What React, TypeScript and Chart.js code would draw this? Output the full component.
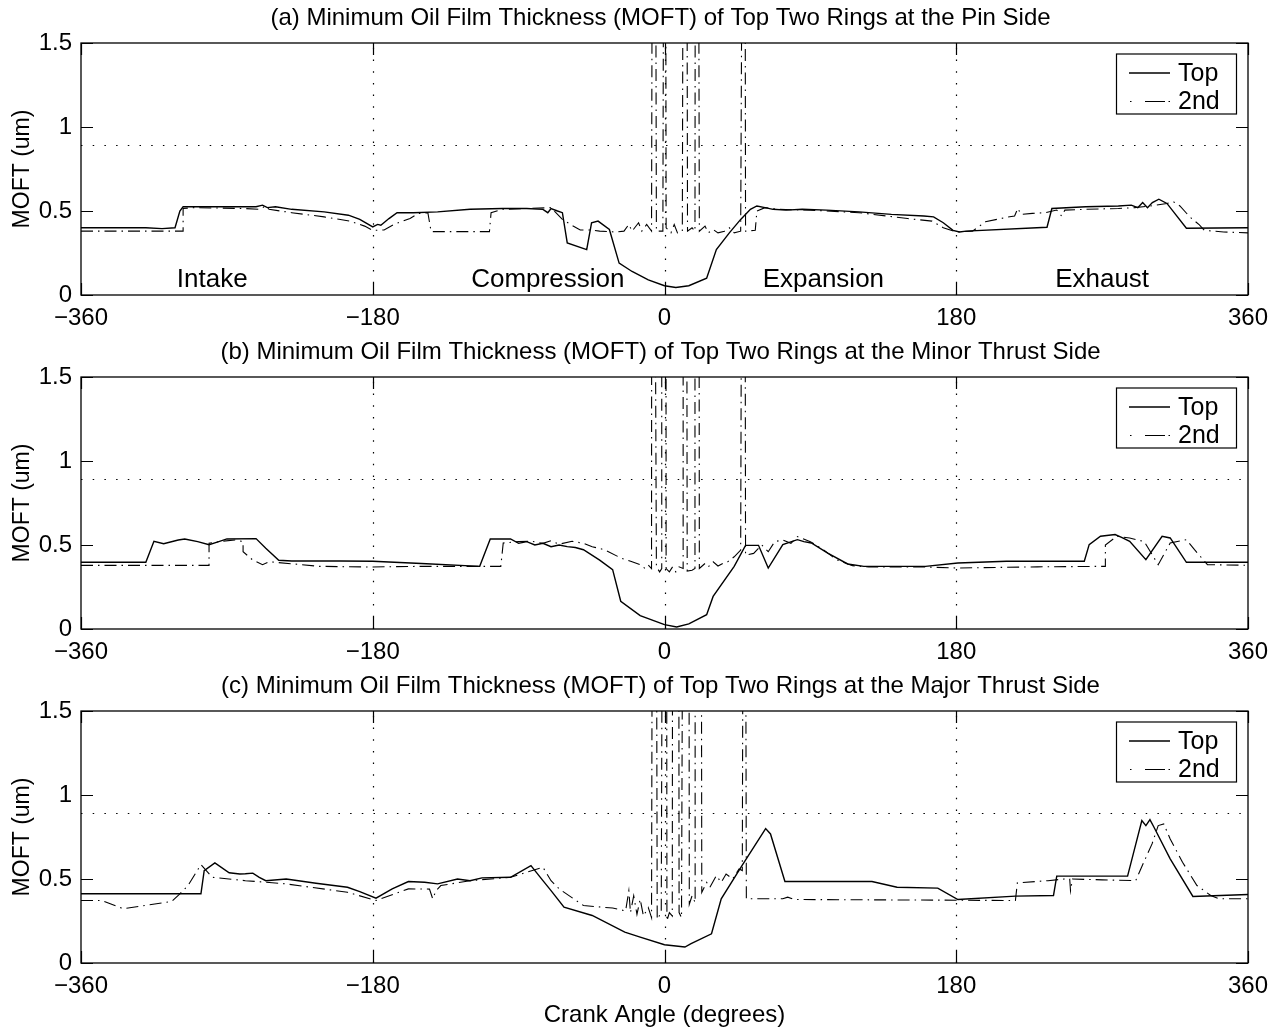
import React, { useEffect, useRef } from "react";
import { Chart, registerables, Plugin } from "chart.js";

Chart.register(...registerables);

type Pt = [number, number];

// Axis ticks and reference values
const X_TICKS = [-360, -180, 0, 180, 360];
const Y_TICKS = [0, 0.5, 1, 1.5];
const GRID_ANGLES = [-180, 0, 180];
const CRITICAL_MOFT = 0.89;

// Stroke names written along the bottom of the first panel
const STROKE_LABELS = ["Intake", "Compression", "Expansion", "Exhaust"];
const STROKE_LABEL_ANGLES = [-279, -72, 98, 270];
const STROKE_LABEL_LEVEL = 0.095;

const SERIES_NAMES = ["Top", "2nd"];

const PANEL_TITLES = [
  "(a) Minimum Oil Film Thickness (MOFT) of Top Two Rings at the Pin Side",
  "(b) Minimum Oil Film Thickness (MOFT) of Top Two Rings at the Minor Thrust Side",
  "(c) Minimum Oil Film Thickness (MOFT) of Top Two Rings at the Major Thrust Side",
];

// (a) pin side — [crank angle deg, MOFT um]
const PIN_TOP: Pt[] = [
  [-360, 0.4], [-320, 0.4], [-310, 0.395], [-302, 0.4], [-299, 0.5], [-297, 0.525],
  [-280, 0.525], [-260, 0.525], [-252, 0.525], [-248, 0.535], [-245, 0.52], [-240, 0.525],
  [-230, 0.51], [-210, 0.495], [-195, 0.475], [-188, 0.45], [-180, 0.405], [-177, 0.42],
  [-175, 0.415], [-170, 0.455], [-165, 0.49], [-155, 0.49], [-140, 0.495], [-120, 0.51],
  [-100, 0.515], [-85, 0.515], [-75, 0.51], [-72, 0.49], [-70, 0.515], [-66, 0.5],
  [-63, 0.49], [-60, 0.31], [-48, 0.27], [-45, 0.43], [-41, 0.44], [-34, 0.39],
  [-28, 0.19], [-20, 0.14], [-10, 0.09], [0, 0.055], [7, 0.045], [15, 0.055],
  [26, 0.1], [32, 0.27], [40, 0.37], [47, 0.45], [53, 0.51], [57, 0.53], [62, 0.52],
  [67, 0.51], [75, 0.505], [85, 0.51], [100, 0.505], [120, 0.495], [140, 0.48],
  [160, 0.47], [166, 0.465], [172, 0.43], [178, 0.385], [182, 0.375], [186, 0.38],
  [236, 0.403], [239, 0.515], [260, 0.525], [280, 0.53], [288, 0.535], [292, 0.52],
  [295, 0.55], [298, 0.52], [301, 0.55], [305, 0.57], [310, 0.545], [322, 0.397], [360, 0.4],
];

const PIN_SECOND: Pt[] = [
  [-360, 0.38], [-340, 0.38], [-297, 0.38], [-297, 0.515], [-290, 0.52], [-260, 0.515],
  [-250, 0.51], [-246, 0.53], [-244, 0.51], [-230, 0.49], [-210, 0.465], [-194, 0.44],
  [-185, 0.41], [-180, 0.385], [-173, 0.387], [-167, 0.42], [-157, 0.456], [-152, 0.485],
  [-146, 0.49], [-144, 0.377], [-120, 0.377], [-108, 0.377], [-107, 0.49], [-100, 0.51],
  [-85, 0.515], [-70, 0.52], [-63, 0.45], [-58, 0.42], [-52, 0.387], [-45, 0.387],
  [-40, 0.38], [-30, 0.375], [-25, 0.38], [-22, 0.42], [-20, 0.38], [-16, 0.43],
  [-14, 0.38], [-11, 0.42], [-8, 0.38], [-7.5, 2.5], [-5.5, 2.5], [-5, 0.38], [-1, 0.38],
  [-0.5, 2.5], [0.7, 2.5], [1, 0.4], [4, 0.37], [6, 0.42], [8, 0.37], [11, 0.38],
  [11.5, 2.5], [13.8, 2.5], [14.2, 0.38], [17, 0.4], [18.8, 0.38], [19, 2.5], [21, 2.5],
  [21.5, 0.38], [25, 0.41], [27, 0.37], [30, 0.39], [33, 0.37], [37, 0.38], [40, 0.4],
  [43, 0.37], [47, 0.38], [48, 2.5], [49.7, 2.5], [50, 0.38], [56, 0.385], [57, 0.5],
  [62, 0.52], [70, 0.51], [90, 0.505], [120, 0.49], [150, 0.455], [165, 0.44], [172, 0.4],
  [180, 0.375], [190, 0.38], [198, 0.436], [213, 0.466], [216, 0.47], [218, 0.516],
  [220, 0.48], [227, 0.486], [235, 0.49], [242, 0.506], [245, 0.47], [247, 0.505],
  [260, 0.51], [280, 0.515], [290, 0.52], [300, 0.53], [310, 0.545], [314, 0.555],
  [318, 0.53], [324, 0.466], [330, 0.417], [333, 0.385], [345, 0.375], [360, 0.37],
];

// (b) minor thrust side
const MINOR_TOP: Pt[] = [
  [-360, 0.397], [-320, 0.397], [-315, 0.522], [-309, 0.508], [-300, 0.53], [-296, 0.536],
  [-288, 0.52], [-281, 0.502], [-275, 0.52], [-270, 0.536], [-252, 0.538], [-246, 0.48],
  [-238, 0.409], [-230, 0.405], [-200, 0.405], [-180, 0.403], [-150, 0.39], [-114, 0.373],
  [-107.5, 0.536], [-95, 0.536], [-90, 0.51], [-85, 0.52], [-80, 0.5], [-75, 0.51],
  [-70, 0.49], [-65, 0.5], [-60, 0.49], [-55, 0.485], [-50, 0.472], [-40, 0.41],
  [-32, 0.353], [-27, 0.165], [-15, 0.08], [0, 0.026], [7.5, 0.012], [15, 0.03],
  [26, 0.085], [30, 0.194], [43, 0.373], [50, 0.498], [58, 0.498], [64, 0.363],
  [73, 0.502], [82, 0.532], [86, 0.52], [90.6, 0.512], [100.7, 0.452], [113, 0.387],
  [123, 0.373], [161, 0.373], [181, 0.393], [211, 0.403], [259, 0.403], [262, 0.502],
  [269, 0.552], [278, 0.562], [282, 0.545], [287, 0.522], [297, 0.413], [307, 0.552],
  [312, 0.542], [322, 0.397], [360, 0.397],
];

const MINOR_SECOND: Pt[] = [
  [-360, 0.379], [-300, 0.379], [-281, 0.379], [-281, 0.51], [-275, 0.52], [-265, 0.53],
  [-260, 0.52], [-260, 0.46], [-254, 0.41], [-248, 0.383], [-244, 0.4], [-240, 0.397],
  [-213, 0.373], [-183, 0.369], [-150, 0.373], [-101, 0.373], [-99.5, 0.512], [-90, 0.52],
  [-82, 0.522], [-75, 0.51], [-70, 0.525], [-65, 0.505], [-57, 0.522], [-50, 0.51],
  [-44.6, 0.49], [-37, 0.472], [-27, 0.423], [-20, 0.4], [-15, 0.383], [-12, 0.36],
  [-10, 0.38], [-8, 0.36], [-7.9, 2.5], [-5.9, 2.5], [-5, 0.37], [-3, 0.34], [-1.7, 0.36],
  [-1.7, 2.5], [0.9, 2.5], [1, 0.36], [3, 0.34], [5, 0.37], [7, 0.34], [9, 0.37],
  [11.5, 0.36], [11.5, 2.5], [13.7, 2.5], [14, 0.345], [17, 0.35], [18.8, 0.36],
  [18.8, 2.5], [21.3, 2.5], [21.5, 0.36], [25, 0.39], [27, 0.37], [30, 0.4], [33, 0.375],
  [36, 0.39], [39, 0.4], [43, 0.43], [47, 0.47], [47.6, 2.5], [49.7, 2.5], [50, 0.44],
  [55, 0.45], [60, 0.5], [64, 0.46], [68, 0.52], [73, 0.53], [78, 0.51], [82, 0.55],
  [90, 0.52], [98, 0.472], [106, 0.413], [116, 0.377], [126, 0.369], [161, 0.369],
  [181, 0.363], [230, 0.37], [272, 0.373], [272, 0.5], [279, 0.552], [287, 0.542],
  [296, 0.52], [304.6, 0.383], [312, 0.512], [322, 0.532], [327, 0.472], [335, 0.383],
  [360, 0.379],
];

// (c) major thrust side
const MAJOR_TOP: Pt[] = [
  [-360, 0.412], [-286, 0.412], [-284, 0.55], [-277.4, 0.596], [-268.6, 0.537],
  [-262, 0.53], [-258.6, 0.531], [-254, 0.535], [-250, 0.51], [-246, 0.49],
  [-233.4, 0.5], [-215, 0.475], [-195.6, 0.451], [-188, 0.425], [-178, 0.386],
  [-168, 0.441], [-158, 0.485], [-148, 0.481], [-140, 0.471], [-127.7, 0.5], [-120, 0.49],
  [-112.6, 0.507], [-95, 0.51], [-82.4, 0.58], [-75, 0.49], [-70, 0.431], [-62, 0.332],
  [-44.6, 0.283], [-24.5, 0.184], [-15, 0.154], [0, 0.109], [12.6, 0.095], [16.4, 0.115],
  [29, 0.174], [35, 0.382], [47.8, 0.58], [62.4, 0.8], [65.4, 0.768], [74.3, 0.485],
  [85.6, 0.485], [128, 0.485], [143.5, 0.451], [168.6, 0.446], [181, 0.378],
  [216.5, 0.398], [240, 0.402], [242, 0.517], [285.7, 0.517], [289.5, 0.66],
  [294.5, 0.848], [297, 0.818], [299.5, 0.853], [302, 0.808], [312, 0.62], [326, 0.396],
  [360, 0.408],
];

const MAJOR_SECOND: Pt[] = [
  [-360, 0.372], [-347, 0.372], [-334, 0.323], [-304, 0.366], [-299, 0.412], [-294, 0.461],
  [-286, 0.586], [-279, 0.51], [-258.6, 0.49], [-233.4, 0.471], [-195.6, 0.421],
  [-178, 0.372], [-158, 0.441], [-145, 0.44], [-143, 0.382], [-141, 0.43], [-138, 0.461],
  [-120, 0.49], [-95, 0.51], [-75, 0.57], [-70, 0.49], [-65, 0.441], [-50, 0.342],
  [-32, 0.327], [-24, 0.31], [-22, 0.43], [-21, 0.3], [-19, 0.4], [-17, 0.29], [-15, 0.38],
  [-13, 0.28], [-10, 0.33], [-8, 0.27], [-7.5, 2.5], [-5, 2.5], [-4.5, 0.26], [-2, 0.3],
  [-1.3, 2.5], [1.3, 2.5], [1.5, 0.25], [3, 0.3], [4.8, 0.28], [5, 2.5], [8.8, 2.5],
  [9, 0.3], [10.5, 0.27], [11.3, 2.5], [15.1, 2.5], [15.3, 0.35], [17, 0.4], [18.9, 0.36],
  [18.9, 2.5], [22.7, 2.5], [23, 0.42], [26, 0.48], [28, 0.45], [32, 0.52], [35, 0.48],
  [38, 0.53], [42, 0.5], [46, 0.56], [48, 0.55], [48.5, 2.5], [50, 2.5], [50.5, 0.382],
  [73, 0.382], [76, 0.392], [80, 0.378], [150, 0.375], [216.5, 0.372], [217.7, 0.477],
  [236.6, 0.49], [246.7, 0.5], [250, 0.5], [250.5, 0.43], [251.7, 0.5], [270, 0.495],
  [290.7, 0.49], [295.7, 0.6], [300.8, 0.709], [304.6, 0.818], [308, 0.828], [312, 0.738],
  [319.6, 0.6], [328.5, 0.461], [337, 0.402], [342, 0.382], [360, 0.382],
];

const PANEL_SERIES: [Pt[], Pt[]][] = [
  [PIN_TOP, PIN_SECOND],
  [MINOR_TOP, MINOR_SECOND],
  [MAJOR_TOP, MAJOR_SECOND],
];

const FONT = '"Liberation Sans", Arial, Helvetica, sans-serif';
const CANVAS_W = 1281;
const PLOT_TOP = 43;
const PLOT_BOTTOM = 295;
const PLOT_LEFT = 81;
const PLOT_RIGHT_PAD = 33;
const DASH_DOT = [12, 5, 1.5, 5];
const DOTTED = [1.5, 10.2];
const TICK_LEN = 12;

const fmtTick = (v: number) => (v < 0 ? "\u2212" + Math.abs(v) : String(v));

function makeDecor(index: number, showStrokes: boolean, showXTitle: boolean): Plugin {
  return {
    id: "panelDecor" + index,
    beforeDatasetsDraw(chart) {
      const { ctx, chartArea: ca } = chart;
      const xs = chart.scales.x;
      ctx.save();
      ctx.strokeStyle = "#000";
      ctx.lineWidth = 1.2;
      ctx.setLineDash(DOTTED);
      for (const a of GRID_ANGLES) {
        const px = Math.round(xs.getPixelForValue(a)) + 0.5;
        ctx.beginPath();
        ctx.moveTo(px, ca.bottom);
        ctx.lineTo(px, ca.top);
        ctx.stroke();
      }
      ctx.restore();
    },
    afterDatasetsDraw(chart) {
      const { ctx, chartArea: ca } = chart;
      const xs = chart.scales.x;
      const ys = chart.scales.y;
      ctx.save();
      ctx.strokeStyle = "#000";
      ctx.fillStyle = "#000";
      ctx.setLineDash([]);

      // axes box
      ctx.lineWidth = 1.3;
      ctx.strokeRect(ca.left, ca.top, ca.right - ca.left, ca.bottom - ca.top);

      // inward tick marks on all four sides
      ctx.lineWidth = 1.2;
      ctx.beginPath();
      for (const v of X_TICKS) {
        const px = Math.round(xs.getPixelForValue(v)) + 0.5;
        ctx.moveTo(px, ca.bottom);
        ctx.lineTo(px, ca.bottom - TICK_LEN);
        ctx.moveTo(px, ca.top);
        ctx.lineTo(px, ca.top + TICK_LEN);
      }
      for (const v of Y_TICKS) {
        const py = Math.round(ys.getPixelForValue(v)) + 0.5;
        ctx.moveTo(ca.left, py);
        ctx.lineTo(ca.left + TICK_LEN, py);
        ctx.moveTo(ca.right, py);
        ctx.lineTo(ca.right - TICK_LEN, py);
      }
      ctx.stroke();

      // legend
      const bx = ca.right - 132;
      const by = ca.top + 10.5;
      ctx.fillStyle = "#fff";
      ctx.fillRect(bx, by, 120, 60);
      ctx.lineWidth = 1.2;
      ctx.strokeRect(bx + 0.5, by + 0.5, 120, 60);
      ctx.fillStyle = "#000";
      const rows = [ca.top + 30, ca.top + 58.5];
      ctx.lineWidth = 1.4;
      ctx.beginPath();
      ctx.moveTo(ca.right - 119, rows[0]);
      ctx.lineTo(ca.right - 78, rows[0]);
      ctx.stroke();
      ctx.lineWidth = 1.1;
      ctx.beginPath();
      ctx.moveTo(ca.right - 118, rows[1]);
      ctx.lineTo(ca.right - 116.5, rows[1]);
      ctx.moveTo(ca.right - 103, rows[1]);
      ctx.lineTo(ca.right - 83, rows[1]);
      ctx.moveTo(ca.right - 79.5, rows[1]);
      ctx.lineTo(ca.right - 78, rows[1]);
      ctx.stroke();
      ctx.font = `25px ${FONT}`;
      ctx.textAlign = "left";
      ctx.textBaseline = "middle";
      SERIES_NAMES.forEach((n, i) => ctx.fillText(n, ca.right - 70, rows[i] + 1));

      // stroke names
      if (showStrokes) {
        ctx.font = `26px ${FONT}`;
        ctx.textAlign = "center";
        STROKE_LABELS.forEach((s, i) => {
          ctx.fillText(
            s,
            xs.getPixelForValue(STROKE_LABEL_ANGLES[i]),
            ys.getPixelForValue(STROKE_LABEL_LEVEL) + 1
          );
        });
      }

      // panel title
      ctx.font = `24px ${FONT}`;
      ctx.textAlign = "center";
      ctx.textBaseline = "middle";
      ctx.fillText(PANEL_TITLES[index], (ca.left + ca.right) / 2 - 4, 18);

      // y axis title
      ctx.save();
      ctx.font = `23px ${FONT}`;
      ctx.translate(23, (ca.top + ca.bottom) / 2);
      ctx.rotate(-Math.PI / 2);
      ctx.fillText("MOFT (um)", 0, 0);
      ctx.restore();

      if (showXTitle) {
        ctx.font = `24px ${FONT}`;
        ctx.textAlign = "center";
        ctx.fillText("Crank Angle (degrees)", (ca.left + ca.right) / 2, ca.bottom + 52);
      }
      ctx.restore();
    },
  };
}

function Panel({ index, top, height }: { index: number; top: number; height: number }) {
  const ref = useRef<HTMLCanvasElement>(null);
  useEffect(() => {
    const [topRing, secondRing] = PANEL_SERIES[index];
    const toXY = (pts: Pt[]) => pts.map(([x, y]) => ({ x, y }));
    const chart = new Chart(ref.current!, {
      type: "line",
      data: {
        datasets: [
          {
            label: SERIES_NAMES[0],
            data: toXY(topRing),
            borderColor: "#000",
            borderWidth: 1.4,
            pointRadius: 0,
            tension: 0,
            fill: false,
          },
          {
            label: SERIES_NAMES[1],
            data: toXY(secondRing),
            borderColor: "#000",
            borderWidth: 1.1,
            borderDash: DASH_DOT,
            pointRadius: 0,
            tension: 0,
            fill: false,
          },
          {
            label: "critical",
            data: [
              { x: X_TICKS[0], y: CRITICAL_MOFT },
              { x: X_TICKS[X_TICKS.length - 1], y: CRITICAL_MOFT },
            ],
            borderColor: "#000",
            borderWidth: 1.2,
            borderDash: DOTTED,
            pointRadius: 0,
            fill: false,
          },
        ],
      },
      options: {
        animation: false,
        responsive: false,
        maintainAspectRatio: false,
        events: [],
        layout: { padding: { top: PLOT_TOP, right: PLOT_RIGHT_PAD, bottom: 0, left: 0 } },
        plugins: {
          legend: { display: false },
          tooltip: { enabled: false },
          title: { display: false },
        },
        scales: {
          x: {
            type: "linear",
            min: X_TICKS[0],
            max: X_TICKS[X_TICKS.length - 1],
            grid: { display: false, drawTicks: false },
            border: { display: false },
            afterBuildTicks: (s: any) => {
              s.ticks = X_TICKS.map((value) => ({ value }));
            },
            afterFit: (s: any) => {
              s.height = height - PLOT_BOTTOM;
            },
            ticks: {
              color: "#000",
              padding: 9,
              maxRotation: 0,
              autoSkip: false,
              font: { family: FONT, size: 24 },
              callback: (v: any) => fmtTick(Number(v)),
            },
          },
          y: {
            type: "linear",
            min: Y_TICKS[0],
            max: Y_TICKS[Y_TICKS.length - 1],
            grid: { display: false, drawTicks: false },
            border: { display: false },
            afterBuildTicks: (s: any) => {
              s.ticks = Y_TICKS.map((value) => ({ value }));
            },
            afterFit: (s: any) => {
              s.width = PLOT_LEFT;
            },
            ticks: {
              color: "#000",
              padding: 9,
              font: { family: FONT, size: 24 },
              callback: (v: any) => fmtTick(Number(v)),
            },
          },
        },
      },
      plugins: [makeDecor(index, index === 0, index === 2)],
    });
    return () => chart.destroy();
  }, [index, height]);
  return (
    <canvas
      ref={ref}
      width={CANVAS_W}
      height={height}
      style={{ position: "absolute", left: 0, top, width: CANVAS_W, height, display: "block" }}
    />
  );
}

export default function App() {
  return (
    <div
      style={{
        position: "absolute",
        left: 0,
        top: 0,
        width: CANVAS_W,
        height: 1029,
        background: "#fff",
        overflow: "hidden",
      }}
    >
      <Panel index={0} top={0} height={334} />
      <Panel index={1} top={334} height={334} />
      <Panel index={2} top={668} height={361} />
    </div>
  );
}
